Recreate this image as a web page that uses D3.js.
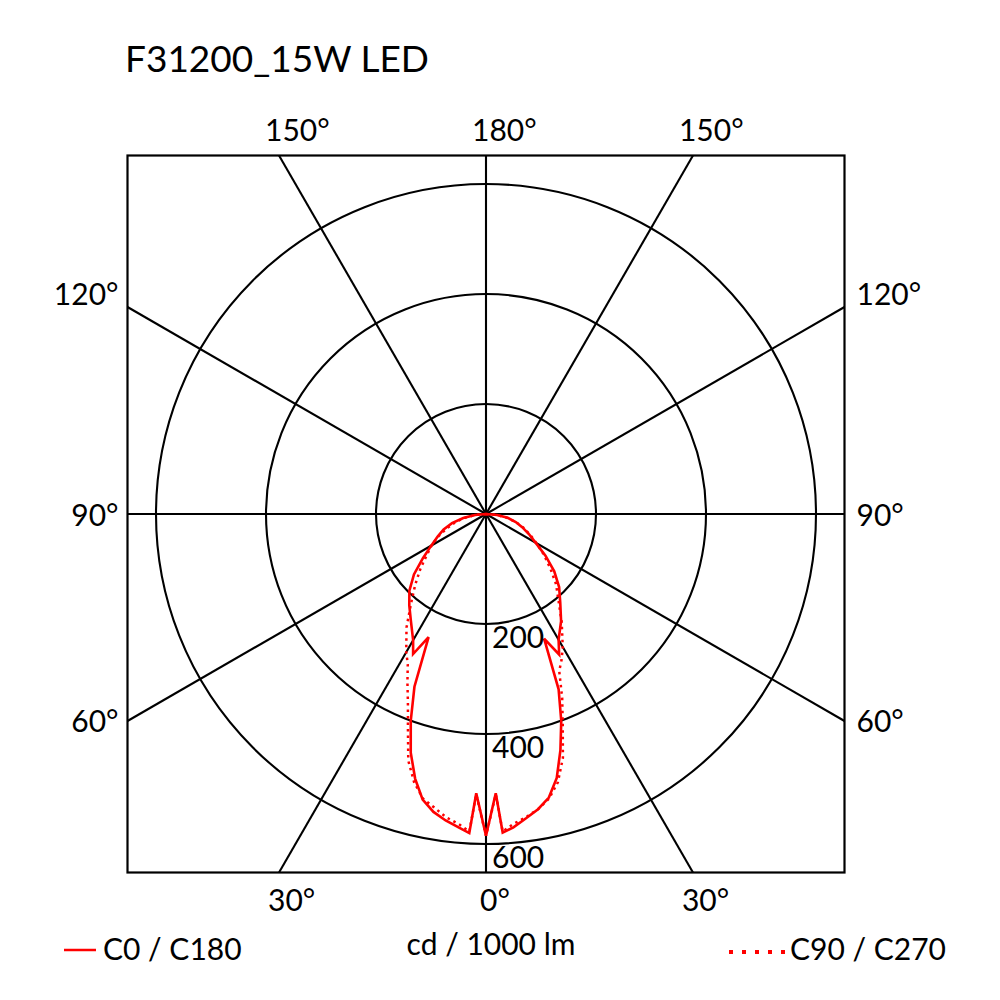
<!DOCTYPE html>
<html>
<head>
<meta charset="utf-8">
<script src="https://cdn.jsdelivr.net/npm/d3@7"></script>
<style>
  html, body { margin: 0; padding: 0; background: #fff; }
  text { font-family: Lato, "Open Sans", sans-serif; fill: #000; }
</style>
</head>
<body>
<svg id="chart" width="1000" height="1000"></svg>
<script>
// ---- data ----
const title = "F31200_15W LED";
const gammaAngles = [0, 2, 3, 5, 7.5, 10, 12.5, 15, 17.5, 20, 22.5, 25, 27.5, 30, 35, 40, 45, 50, 55, 60, 65, 70, 75, 80, 85, 90];
const c0Values   = [585, 508, 580, 572, 558, 545, 528, 497, 450, 400, 345, 250, 288, 264, 238, 210, 188, 162, 132, 104, 86, 70, 56, 40, 20, 0];
const c180Values = [585, 508, 581, 572, 562, 550, 532, 498, 455, 400, 340, 247, 287, 265, 238, 217, 197, 171, 140, 115, 97, 82, 64, 42, 20, 0];
const c90Values  = [585, 510, 578, 566, 556, 545, 530, 505, 465, 408, 362, 315, 298, 279, 240, 205, 180, 152, 128, 106, 88, 72, 56, 38, 18, 0];
const c270Values = [585, 510, 578, 566, 556, 542, 530, 505, 470, 415, 371, 338, 308, 290, 252, 212, 182, 156, 132, 114, 95, 75, 58, 38, 18, 0];
const ringValues = [200, 400, 600];
const ringLabels = ["200", "400", "600"];
const spokeAngles = [0, 30, 60, 90, 120, 150, 180];
const topLabels = [{a: 150, side: -1, t: "150°"}, {a: 180, side: 1, t: "180°"}, {a: 150, side: 1, t: "150°"}];
const sideLabels = [{a: 120, t: "120°"}, {a: 90, t: "90°"}, {a: 60, t: "60°"}];
const bottomLabels = [{a: 30, side: -1, t: "30°"}, {a: 0, side: 1, t: "0°"}, {a: 30, side: 1, t: "30°"}];
const unitLabel = "cd / 1000 lm";
const legendSolid = "C0 / C180";
const legendDotted = "C90 / C270";

// ---- layout ----
const cx = 486, cy = 514, half = 358.5, R = 330;
const svg = d3.select("#chart");
const r = d3.scaleLinear().domain([0, 600]).range([0, R]);
const g = svg.append("g").attr("transform", `translate(${cx},${cy})`);

function frameHit(gDeg, side) {
  const t = gDeg * Math.PI / 180;
  const dx = side * Math.sin(t), dy = Math.cos(t);
  const k = Math.min(Math.abs(dx) > 1e-9 ? half / Math.abs(dx) : Infinity,
                     Math.abs(dy) > 1e-9 ? half / Math.abs(dy) : Infinity);
  return [dx * k, dy * k];
}
const spokes = [];
spokeAngles.forEach(a => { spokes.push([a, 1]); if (a > 0 && a < 180) spokes.push([a, -1]); });
g.selectAll("line.spoke").data(spokes).enter().append("line")
  .attr("x1", 0).attr("y1", 0)
  .attr("x2", d => frameHit(d[0], d[1])[0])
  .attr("y2", d => frameHit(d[0], d[1])[1])
  .attr("stroke", "#000").attr("stroke-width", 2.1);

g.selectAll("circle.ring").data(ringValues).enter().append("circle")
  .attr("r", d => r(d)).attr("fill", "none").attr("stroke", "#000").attr("stroke-width", 2.1);

g.append("rect").attr("x", -half).attr("y", -half).attr("width", 2 * half).attr("height", 2 * half)
  .attr("fill", "none").attr("stroke", "#000").attr("stroke-width", 2.2);

// curves
function buildPts(leftVals, rightVals) {
  const pts = [];
  for (let i = gammaAngles.length - 1; i >= 0; i--) pts.push([Math.PI + gammaAngles[i] * Math.PI / 180, r(leftVals[i])]);
  for (let i = 0; i < gammaAngles.length; i++) pts.push([Math.PI - gammaAngles[i] * Math.PI / 180, r(rightVals[i])]);
  return pts;
}
const radial = d3.lineRadial().angle(d => d[0]).radius(d => d[1]).curve(d3.curveLinear);
g.append("path").attr("d", radial(buildPts(c270Values, c90Values)))
  .attr("fill", "none").attr("stroke", "#ff0000").attr("stroke-width", 2.5)
  .attr("stroke-dasharray", "2.5,4");
g.append("path").attr("d", radial(buildPts(c180Values, c0Values)))
  .attr("fill", "none").attr("stroke", "#ff0000").attr("stroke-width", 2.6)
  .attr("stroke-linejoin", "miter");

const fs = 30;
// ring labels
g.selectAll("text.ring").data(ringValues).enter().append("text")
  .attr("x", 6).attr("y", d => r(d) + 24)
  .attr("font-size", fs)
  .text((d, i) => ringLabels[i]);

// angle labels
topLabels.forEach(d => {
  const p = frameHit(d.a, d.side);
  g.append("text").attr("x", p[0] - 14).attr("y", -half - 15).attr("font-size", fs).text(d.t);
});
bottomLabels.forEach(d => {
  const p = frameHit(d.a, d.side);
  g.append("text").attr("x", p[0] - (d.a === 0 ? 6 : 11)).attr("y", half + 38).attr("font-size", fs).text(d.t);
});
sideLabels.forEach(d => {
  const p = frameHit(d.a, 1);
  const yy = d.a === 120 ? p[1] - 13 : p[1] + 1;
  g.append("text").attr("x", -half - 9).attr("y", yy).attr("dy", "0.35em").attr("text-anchor", "end").attr("font-size", fs).text(d.t);
  g.append("text").attr("x", half + 12).attr("y", yy).attr("dy", "0.35em").attr("font-size", fs).text(d.t);
});

// title
svg.append("text").attr("x", 125).attr("y", 72).attr("font-size", 37).text(title);

// legend / unit
svg.append("line").attr("x1", 64).attr("x2", 96).attr("y1", 950).attr("y2", 950)
  .attr("stroke", "#ff0000").attr("stroke-width", 2.5);
svg.append("text").attr("x", 103).attr("y", 960).attr("font-size", fs).text(legendSolid);
svg.append("text").attr("x", 491).attr("y", 955).attr("text-anchor", "middle").attr("font-size", fs).text(unitLabel);
svg.append("line").attr("x1", 729).attr("x2", 785).attr("y1", 952).attr("y2", 952)
  .attr("stroke", "#ff0000").attr("stroke-width", 4).attr("stroke-dasharray", "4,9");
svg.append("text").attr("x", 790).attr("y", 960).attr("font-size", fs).text(legendDotted);
</script>
</body>
</html>
